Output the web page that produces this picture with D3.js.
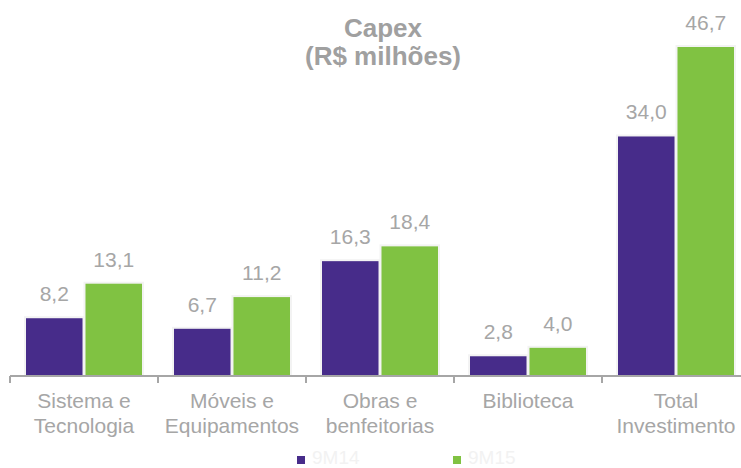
<!DOCTYPE html>
<html>
<head>
<meta charset="utf-8">
<style>
  body { margin: 0; background: #fff; }
  svg { font-family: "Liberation Sans", Arial, sans-serif; }
</style>
</head>
<body>
<svg width="741" height="468"></svg>
<script src="https://d3js.org/d3.v7.min.js"></script>
<script>
  var categories = [["Sistema e", "Tecnologia"], ["Móveis e", "Equipamentos"], ["Obras e", "benfeitorias"], ["Biblioteca"], ["Total", "Investimento"]];
  var seriesNames = ["9M14", "9M15"];
  var values9M14 = [8.2, 6.7, 16.3, 2.8, 34.0];
  var values9M15 = [13.1, 11.2, 18.4, 4.0, 46.7];
  var colors = ["#472C8A", "#80C242"];

  var svg = d3.select("svg");
  var grey = "#A6A6A6";
  var fmt = function(v) { return v.toFixed(1).replace(".", ","); };

  var keys = categories.map(function(c) { return c.join(" "); });
  var data = keys.map(function(k, i) {
    return { key: k, lines: categories[i], vals: [values9M14[i], values9M15[i]] };
  });

  var x0 = d3.scaleBand().domain(keys).range([10, 750]).padding(0);
  var x1 = d3.scaleBand().domain(seriesNames).range([16, 132]).paddingInner(0.05);
  var y = d3.scaleLinear().domain([0, 46.7]).range([376, 47]);

  // title
  var title = svg.append("text")
      .attr("x", 383).attr("y", 37)
      .attr("text-anchor", "middle")
      .attr("fill", "#A0A0A0")
      .attr("font-weight", "bold")
      .attr("font-size", 26);
  title.append("tspan").attr("x", 383).text("Capex");
  title.append("tspan").attr("x", 383).attr("dy", 28).text("(R$ milhões)");

  var groups = svg.selectAll(".cat")
    .data(data)
    .enter().append("g")
      .attr("class", "cat")
      .attr("transform", function(d) { return "translate(" + x0(d.key) + ",0)"; });

  var bars = groups.selectAll(".bar")
    .data(function(d) { return d.vals.map(function(v, j) { return { s: seriesNames[j], v: v, j: j }; }); })
    .enter();

  bars.append("rect")
      .attr("x", function(d) { return x1(d.s) - 2; })
      .attr("y", function(d) { return y(d.v) - 2; })
      .attr("width", x1.bandwidth() + 4)
      .attr("height", function(d) { return y(0) - y(d.v) + 2; })
      .attr("fill", "#F3F3F3");

  bars.append("rect")
      .attr("x", function(d) { return x1(d.s); })
      .attr("y", function(d) { return y(d.v); })
      .attr("width", x1.bandwidth())
      .attr("height", function(d) { return y(0) - y(d.v); })
      .attr("fill", function(d) { return colors[d.j]; });

  bars.append("text")
      .attr("x", function(d) { return x1(d.s) + x1.bandwidth() / 2; })
      .attr("y", function(d) { return y(d.v) - 17; })
      .attr("text-anchor", "middle")
      .attr("fill", grey)
      .attr("font-size", 21)
      .text(function(d) { return fmt(d.v); });

  // axis
  var axis = svg.append("g")
      .attr("transform", "translate(0," + y(0) + ")")
      .call(d3.axisBottom(x0).tickSize(0).tickFormat(""));
  axis.select(".domain").remove();
  axis.append("line")
      .attr("x1", 10).attr("x2", 741)
      .attr("stroke", grey).attr("stroke-width", 2);
  axis.selectAll(".tickmark")
    .data(keys)
    .enter().append("line")
      .attr("x1", function(d) { return x0(d); })
      .attr("x2", function(d) { return x0(d); })
      .attr("y1", 0).attr("y2", 7)
      .attr("stroke", grey).attr("stroke-width", 2);

  groups.append("text")
      .attr("y", 408)
      .attr("text-anchor", "middle")
      .attr("fill", grey)
      .attr("font-size", 21)
      .selectAll("tspan")
      .data(function(d) { return d.lines; })
      .enter().append("tspan")
        .attr("x", x0.bandwidth() / 2)
        .attr("dy", function(d, i) { return i === 0 ? 0 : 25; })
        .text(function(d) { return d; });

  // legend
  var legendX = [297, 453];
  var legend = svg.selectAll(".legend")
    .data(seriesNames)
    .enter().append("g")
      .attr("transform", function(d, i) { return "translate(" + legendX[i] + ",456)"; });
  legend.append("rect")
      .attr("width", 8).attr("height", 8)
      .attr("fill", function(d, i) { return colors[i]; });
  legend.append("text")
      .attr("x", 15).attr("y", 8)
      .attr("fill", "#F2F2F2")
      .attr("font-size", 19)
      .text(function(d) { return d; });
</script>
</body>
</html>
